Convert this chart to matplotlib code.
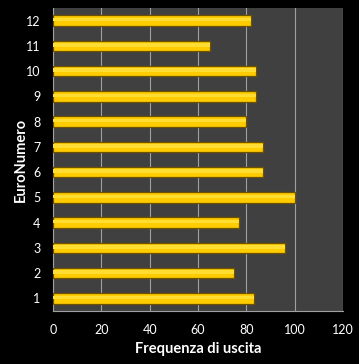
import matplotlib.pyplot as plt
from matplotlib import rcParams
rcParams["font.family"] = ["Lato", "DejaVu Sans"]

euronumeri = [1, 2, 3, 4, 5, 6, 7, 8, 9, 10, 11, 12]
frequenze = [83, 75, 96, 77, 100, 87, 87, 80, 84, 84, 65, 82]
x_ticks = [0, 20, 40, 60, 80, 100, 120]


def main():
    fig = plt.figure(figsize=(3.59, 3.64), dpi=100, facecolor="black")
    ax = fig.add_axes([53 / 359, 1 - 311 / 364, (343 - 53) / 359, (311 - 8) / 364])
    ax.set_facecolor("#404040")

    ax.barh(euronumeri, frequenze, height=0.42, color="#FFCC00",
            edgecolor="#6E5200", linewidth=0.9, zorder=3)
    # highlight stripe on the bars
    ax.barh([e + 0.04 for e in euronumeri], frequenze, height=0.14,
            color="#FFDD33", linewidth=0, zorder=4)

    ax.set_xlim(0, 120)
    ax.set_ylim(0.5, 12.5)
    ax.set_xticks(x_ticks)
    ax.set_yticks(euronumeri)
    ax.xaxis.grid(True, color="#A0A0A0", linewidth=0.8, zorder=1)
    ax.set_axisbelow(True)

    for side in ["top", "right"]:
        ax.spines[side].set_visible(False)
    for side in ["left", "bottom"]:
        ax.spines[side].set_color("#A0A0A0")
    ax.tick_params(colors="white", labelsize=9, length=0, pad=9)

    ax.set_xlabel("Frequenza di uscita", color="white", fontsize=10.5,
                  fontweight="bold", labelpad=5)
    ax.set_ylabel("EuroNumero", color="white", fontsize=10.5,
                  fontweight="bold", labelpad=-1)

    fig.savefig("out.png", dpi=100, facecolor="black")


if __name__ == "__main__":
    main()
